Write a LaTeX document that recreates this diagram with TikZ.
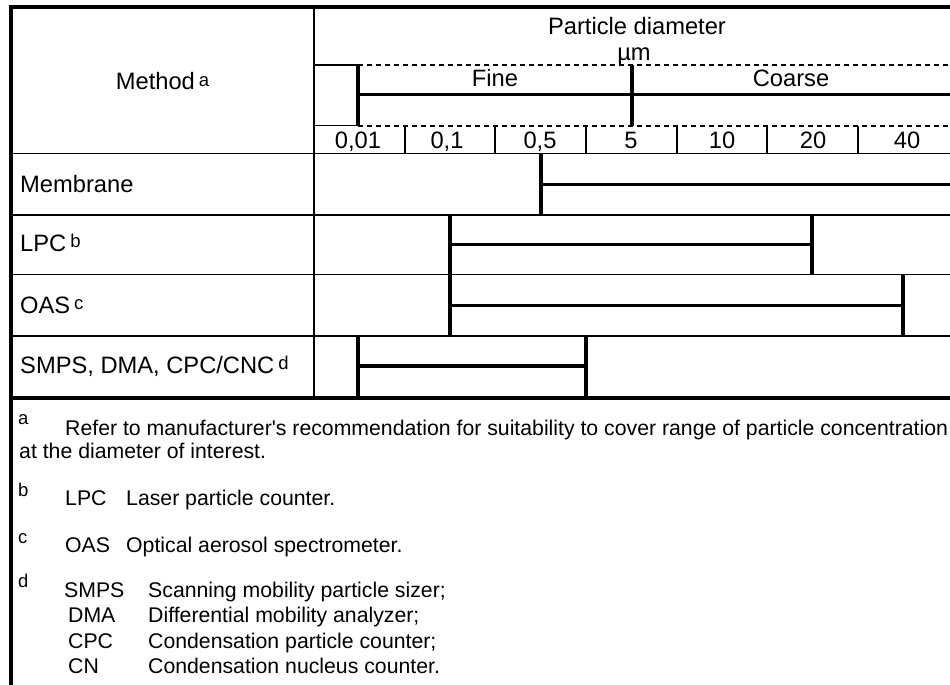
\documentclass[tikz,border=0pt]{standalone}
\usepackage{fontspec}
\setmainfont{Liberation Sans}
\usepackage{tikz}
\usetikzlibrary{positioning}
\newcommand{\tabsize}{\fontsize{23.7}{27}\selectfont}
\newcommand{\notesize}{\fontsize{21.25}{25}\selectfont}
\newcommand{\supsize}{\fontsize{18.5}{18.5}\selectfont}
\newcommand{\supmark}[1]{\,\raisebox{3.5pt}{\supsize #1}}
\tikzset{
    cell/.style={font=\tabsize, inner sep=0pt, anchor=base},
    rowname/.style={cell, anchor=base west},
    note/.style={font=\notesize, inner sep=0pt, anchor=base west},
    notemark/.style={font=\supsize, inner sep=0pt, anchor=base west},
    thinrule/.style={line width=1.3pt},
    thickrule/.style={line width=3.3pt},
    outerrule/.style={line width=4pt, line join=miter},
    dashrule/.style={line width=1.8pt, dash pattern=on 5pt off 4pt},
}
\begin{document}
\begin{tikzpicture}[x=1pt, y=-1pt]
    \useasboundingbox (0,0) rectangle (950,685);
    \fill[white] (0,0) rectangle (950,685);

    \draw[thinrule] (314,7) -- (314,398);
    \foreach \y in {153.5,215,274.5,336}
        \draw[thinrule] (11,\y) -- (960,\y);
    \draw[thinrule] (314,65) -- (358,65);
    \draw[thinrule] (314,125.7) -- (358,125.7);
    \foreach \x in {405,495,586,677,767,858}
        \draw[thinrule] (\x,125.7) -- (\x,153.5);
    \draw[dashrule] (358,65) -- (960,65);
    \draw[dashrule] (358,125.7) -- (960,125.7);

    \draw[thickrule] (358,65) -- (358,125.7);
    \draw[thickrule] (632,65) -- (632,125.7);
    \draw[thickrule] (358,94.3) -- (960,94.3);

    \draw[thickrule] (541,153.5) -- (541,215);
    \draw[thickrule] (541,184.3) -- (960,184.3);
    \draw[thickrule] (450,215) -- (450,274.5);
    \draw[thickrule] (450,244.7) -- (812,244.7);
    \draw[thickrule] (812,215) -- (812,274.5);
    \draw[thickrule] (450,274.5) -- (450,336);
    \draw[thickrule] (450,305.5) -- (903,305.5);
    \draw[thickrule] (903,274.5) -- (903,336);
    \draw[thickrule] (358,336) -- (358,398);
    \draw[thickrule] (358,366) -- (586,366);
    \draw[thickrule] (586,336) -- (586,398);

    \draw[outerrule] (11,690) -- (11,7) -- (960,7);
    \draw[outerrule] (11,398) -- (960,398);

    \node[cell] (method) at (162.5,89.5) {Method\supmark{a}};
    \node[cell] (pdiam) at (637,35) {Particle diameter};
    \node[cell] (unit) at (634,60) {µm};
    \node[cell] (fine) at (495,86) {Fine};
    \node[cell] (coarse) at (791,86) {Coarse};
    \foreach \x/\t [count=\i] in {358/{0,01}, 447/{0,1}, 540/{0,5}, 631/5, 722/10, 813/20, 907/40}
        \node[cell] (tick\i) at (\x,148) {\t};

    \node[rowname] (membrane) at (20,192) {Membrane};
    \node[rowname] (lpc) at (20,251) {LPC\supmark{b}};
    \node[rowname] (oas) at (20,313) {OAS\supmark{c}};
    \node[rowname] (smps) at (20,373) {SMPS, DMA, CPC/CNC\supmark{d}};

    \node[notemark] (marka) at (18,424) {a};
    \node[note] (notea) at (65,435) {Refer to manufacturer\textquotesingle s recommendation for suitability to cover range of particle concentration};
    \node[note] (noteb) at (19,458) {at the diameter of interest.};
    \node[notemark] (markb) at (18,496) {b};
    \node[note] (lpcabbr) at (65,505) {LPC};
    \node[note] (lpctext) at (126,505) {Laser particle counter.};
    \node[notemark] (markc) at (18,543) {c};
    \node[note] (oasabbr) at (65,552) {OAS};
    \node[note] (oastext) at (126,552) {Optical aerosol spectrometer.};
    \node[notemark] (markd) at (18,587) {d};
    \node[note] (smpsabbr) at (64,597) {SMPS};
    \node[note] (smpstext) at (148,597) {Scanning mobility particle sizer;};
    \node[note] (dmaabbr) at (68,622) {DMA};
    \node[note] (dmatext) at (148,622) {Differential mobility analyzer;};
    \node[note] (cpcabbr) at (68,648) {CPC};
    \node[note] (cpctext) at (148,648) {Condensation particle counter;};
    \node[note] (cnabbr) at (68,673) {CN};
    \node[note] (cntext) at (148,673) {Condensation nucleus counter.};
\end{tikzpicture}
\end{document}
